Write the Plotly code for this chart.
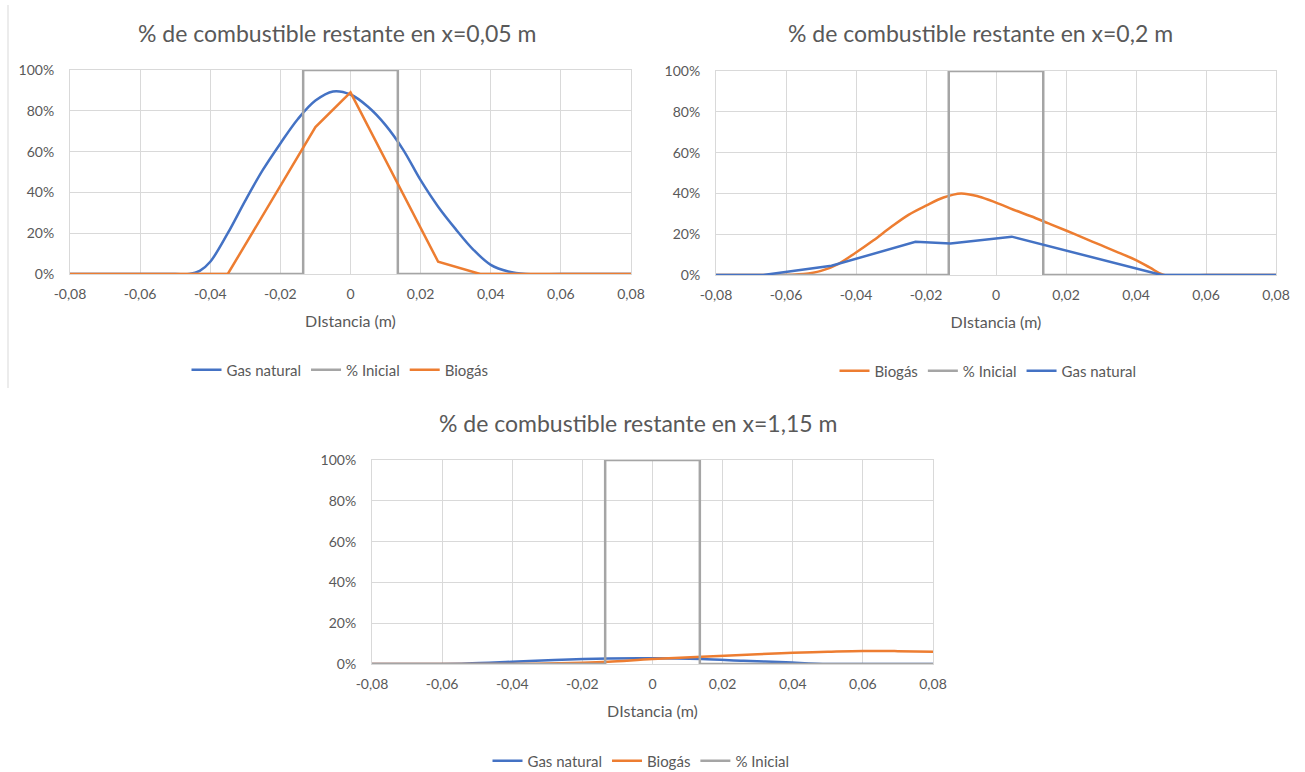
import plotly.graph_objects as go

# ---------------- data ----------------
# Chart 1: x = 0,05 m
x1_gas = [-0.08, -0.07, -0.06, -0.05, -0.046, -0.043, -0.04, -0.035, -0.03, -0.025, -0.02, -0.015, -0.01,
          -0.005, 0, 0.005, 0.01, 0.015, 0.02, 0.025, 0.03, 0.035, 0.04, 0.045, 0.05, 0.06, 0.07, 0.08]
y1_gas = [0, 0, 0, 0, 0, 1.5, 6, 20, 36, 51, 64, 76, 85,
          89.5, 88, 82, 73, 61, 46, 33, 22, 12, 4.5, 1.2, 0, 0, 0, 0]
x1_bio = [-0.08, -0.035, -0.01, 0, 0.025, 0.037, 0.08]
y1_bio = [0, 0, 72, 89, 6, 0, 0]

# Chart 2: x = 0,2 m
x2_bio = [-0.08, -0.066, -0.055, -0.05, -0.045, -0.04, -0.035, -0.03, -0.025, -0.02, -0.015, -0.01,
          -0.005, 0, 0.005, 0.01, 0.015, 0.02, 0.025, 0.03, 0.035, 0.04, 0.044, 0.048, 0.06, 0.08]
y2_bio = [0, 0, 0.5, 2, 5.5, 11, 17, 23.5, 29.5, 34, 38, 40,
          38.5, 35.5, 32, 28.8, 25.3, 21.8, 18.2, 14.6, 11, 7.3, 3.6, 0, 0, 0]
x2_gas = [-0.08, -0.0665, -0.047, -0.023, -0.013, 0.0045, 0.0473, 0.08]
y2_gas = [0, 0, 4.5, 16.3, 15.5, 18.8, 0, 0]

# Chart 3: x = 1,15 m
x3_gas = [-0.08, -0.06, -0.053, -0.04, -0.028, -0.0125, 0, 0.014, 0.026, 0.038, 0.05, 0.06, 0.08]
y3_gas = [0, 0, 0.2, 1.1, 2.0, 2.7, 2.8, 2.4, 1.6, 0.8, 0, 0, 0]
x3_bio = [-0.08, -0.04, -0.03, -0.02, -0.0125, 0, 0.014, 0.03, 0.04, 0.05, 0.06, 0.07, 0.08]
y3_bio = [0, 0, 0.2, 0.6, 1.1, 2.4, 3.5, 4.8, 5.5, 6.0, 6.4, 6.3, 6.0]

# Initial fuel profile (nozzle width)
x_ini = [-0.08, -0.0135, -0.0135, 0.0135, 0.0135, 0.08]
y_ini = [0, 0, 100, 100, 0, 0]

x_ticks = [-0.08, -0.06, -0.04, -0.02, 0, 0.02, 0.04, 0.06, 0.08]
x_tick_labels = ["-0,08", "-0,06", "-0,04", "-0,02", "0", "0,02", "0,04", "0,06", "0,08"]
y_ticks = [0, 20, 40, 60, 80, 100]
y_tick_labels = ["0%", "20%", "40%", "60%", "80%", "100%"]

titles = ["% de combustible restante en x=0,05 m",
          "% de combustible restante en x=0,2 m",
          "% de combustible restante en x=1,15 m"]

# ---------------- style ----------------
BLUE = "#4472c4"
ORANGE = "#ed7d31"
GRAY = "#a5a5a5"
GRID = "#d9d9d9"
TXT = "#595959"
FONT = "Lato"
W, H = 1305, 772
LW = 2.5


def px_x(p):
    return p / W


def px_y(p):
    return 1 - p / H


fig = go.Figure()


def line(x, y, name, color, axis, legend, spline=False):
    fig.add_trace(go.Scatter(
        x=x, y=y, name=name, mode="lines",
        line=dict(color=color, width=LW, shape="spline" if spline else "linear",
                  smoothing=1 if spline else None),
        xaxis="x" + axis, yaxis="y" + axis, legend=legend,
        hoverinfo="skip"))


# chart 1 (legend order: Gas natural, % Inicial, Biogás)
line(x1_gas, y1_gas, "Gas natural", BLUE, "", "legend", spline=True)
line(x_ini, y_ini, "% Inicial", GRAY, "", "legend")
line(x1_bio, y1_bio, "Biogás", ORANGE, "", "legend")
# chart 2 (legend order: Biogás, % Inicial, Gas natural)
line(x2_bio, y2_bio, "Biogás", ORANGE, "2", "legend2", spline=True)
line(x_ini, y_ini, "% Inicial", GRAY, "2", "legend2")
line(x2_gas, y2_gas, "Gas natural", BLUE, "2", "legend2")
# chart 3 (legend order: Gas natural, Biogás, % Inicial)
line(x3_gas, y3_gas, "Gas natural", BLUE, "3", "legend3", spline=True)
line(x3_bio, y3_bio, "Biogás", ORANGE, "3", "legend3", spline=True)
line(x_ini, y_ini, "% Inicial", GRAY, "3", "legend3")

# plot-area boxes in pixels: (left, right, top, bottom)
boxes = [(70, 631, 70, 274), (716, 1276, 71, 275), (372, 933, 460, 664)]
title_pos = [(337, 33), (981, 33), (638, 423)]
legend_pos = [(340, 370), (988, 371), (641, 761)]

layout = dict(
    width=W, height=H,
    margin=dict(l=0, r=0, t=0, b=0, autoexpand=False),
    paper_bgcolor="white", plot_bgcolor="white",
    font=dict(family=FONT, color=TXT, size=14),
    annotations=[], shapes=[],
)

for i, (l, r, t, b) in enumerate(boxes):
    suffix = "" if i == 0 else str(i + 1)
    layout["xaxis" + suffix] = dict(
        domain=[px_x(l), px_x(r)], anchor="y" + suffix,
        range=[-0.08, 0.08], tickvals=x_ticks, ticktext=x_tick_labels,
        showgrid=True, gridcolor=GRID, gridwidth=1, zeroline=False,
        showline=True, linecolor=GRID, linewidth=1, mirror=True,
        ticks="", ticklabelstandoff=7, automargin=False,
        tickfont=dict(size=14, color=TXT),
        title=dict(text="DIstancia (m)", font=dict(size=16, color=TXT), standoff=15),
        fixedrange=True,
    )
    layout["yaxis" + suffix] = dict(
        domain=[px_y(b), px_y(t)], anchor="x" + suffix,
        range=[0, 100], tickvals=y_ticks, ticktext=y_tick_labels,
        showgrid=True, gridcolor=GRID, gridwidth=1, zeroline=False,
        showline=True, linecolor=GRID, linewidth=1, mirror=True,
        ticks="", ticklabelstandoff=12, automargin=False,
        tickfont=dict(size=14, color=TXT),
        fixedrange=True,
    )
    tx, ty = title_pos[i]
    layout["annotations"].append(dict(
        text=titles[i], xref="paper", yref="paper", x=px_x(tx), y=px_y(ty),
        xanchor="center", yanchor="middle", showarrow=False,
        font=dict(size=23, color=TXT, family=FONT)))
    lx, ly = legend_pos[i]
    layout["legend" + suffix] = dict(
        orientation="h", x=px_x(lx), y=px_y(ly), xanchor="center", yanchor="middle",
        font=dict(size=15, color=TXT), bgcolor="rgba(0,0,0,0)",
        itemwidth=30, tracegroupgap=0)

# thin frame edge on the left of the first chart
layout["shapes"].append(dict(type="line", xref="paper", yref="paper",
                             x0=px_x(8), x1=px_x(8), y0=px_y(5), y1=px_y(388),
                             line=dict(color=GRID, width=1)))

fig.update_layout(**layout)
fig.write_html("out.html")
